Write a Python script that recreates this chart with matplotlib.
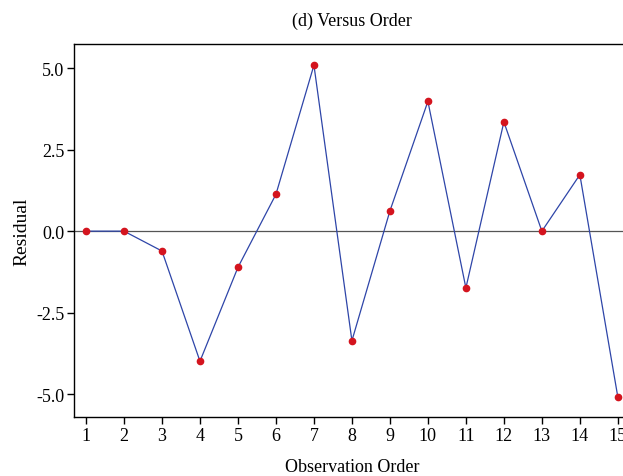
import matplotlib
matplotlib.use("Agg")
import matplotlib.pyplot as plt

# residuals in observation order
order = list(range(1, 16))
residual = [0.0, 0.0, -0.61, -3.99, -1.11, 1.13, 5.09, -3.36, 0.62, 3.98, -1.74, 3.35, 0.0, 1.73, -5.09]
y_ticks = [5.0, 2.5, 0.0, -2.5, -5.0]

plt.rcParams['font.family'] = ['Liberation Serif', 'DejaVu Serif']

fig = plt.figure(figsize=(6.23, 4.77), dpi=100)
ax = fig.add_axes([74 / 623, 1 - 418 / 477, 556 / 623, 373 / 477])

ax.axhline(0, color='#555555', lw=0.9, zorder=1)
ax.plot(order, residual, color='#2e45a8', lw=0.9, zorder=2)
ax.plot(order, residual, 'o', color='#d4141e', ms=4.5, mec='#d4141e', zorder=3)

ax.set_xlim(0.684, 15.32)
ax.set_ylim(-5.70, 5.74)
ax.set_xticks(order)
ax.set_yticks(y_ticks)
ax.set_yticklabels([f"{t:.1f}" for t in y_ticks])
ax.tick_params(direction='out', length=5, width=1, labelsize=13, pad=2)

for side in ['left', 'bottom', 'top']:
    ax.spines[side].set_linewidth(1.0)
ax.spines['right'].set_visible(False)

ax.set_title("(d) Versus Order", fontsize=13, pad=14)
ax.set_xlabel("Observation Order", fontsize=13, labelpad=10)
ax.set_ylabel("Residual", fontsize=14, labelpad=4)

fig.savefig("out.png", dpi=100)
